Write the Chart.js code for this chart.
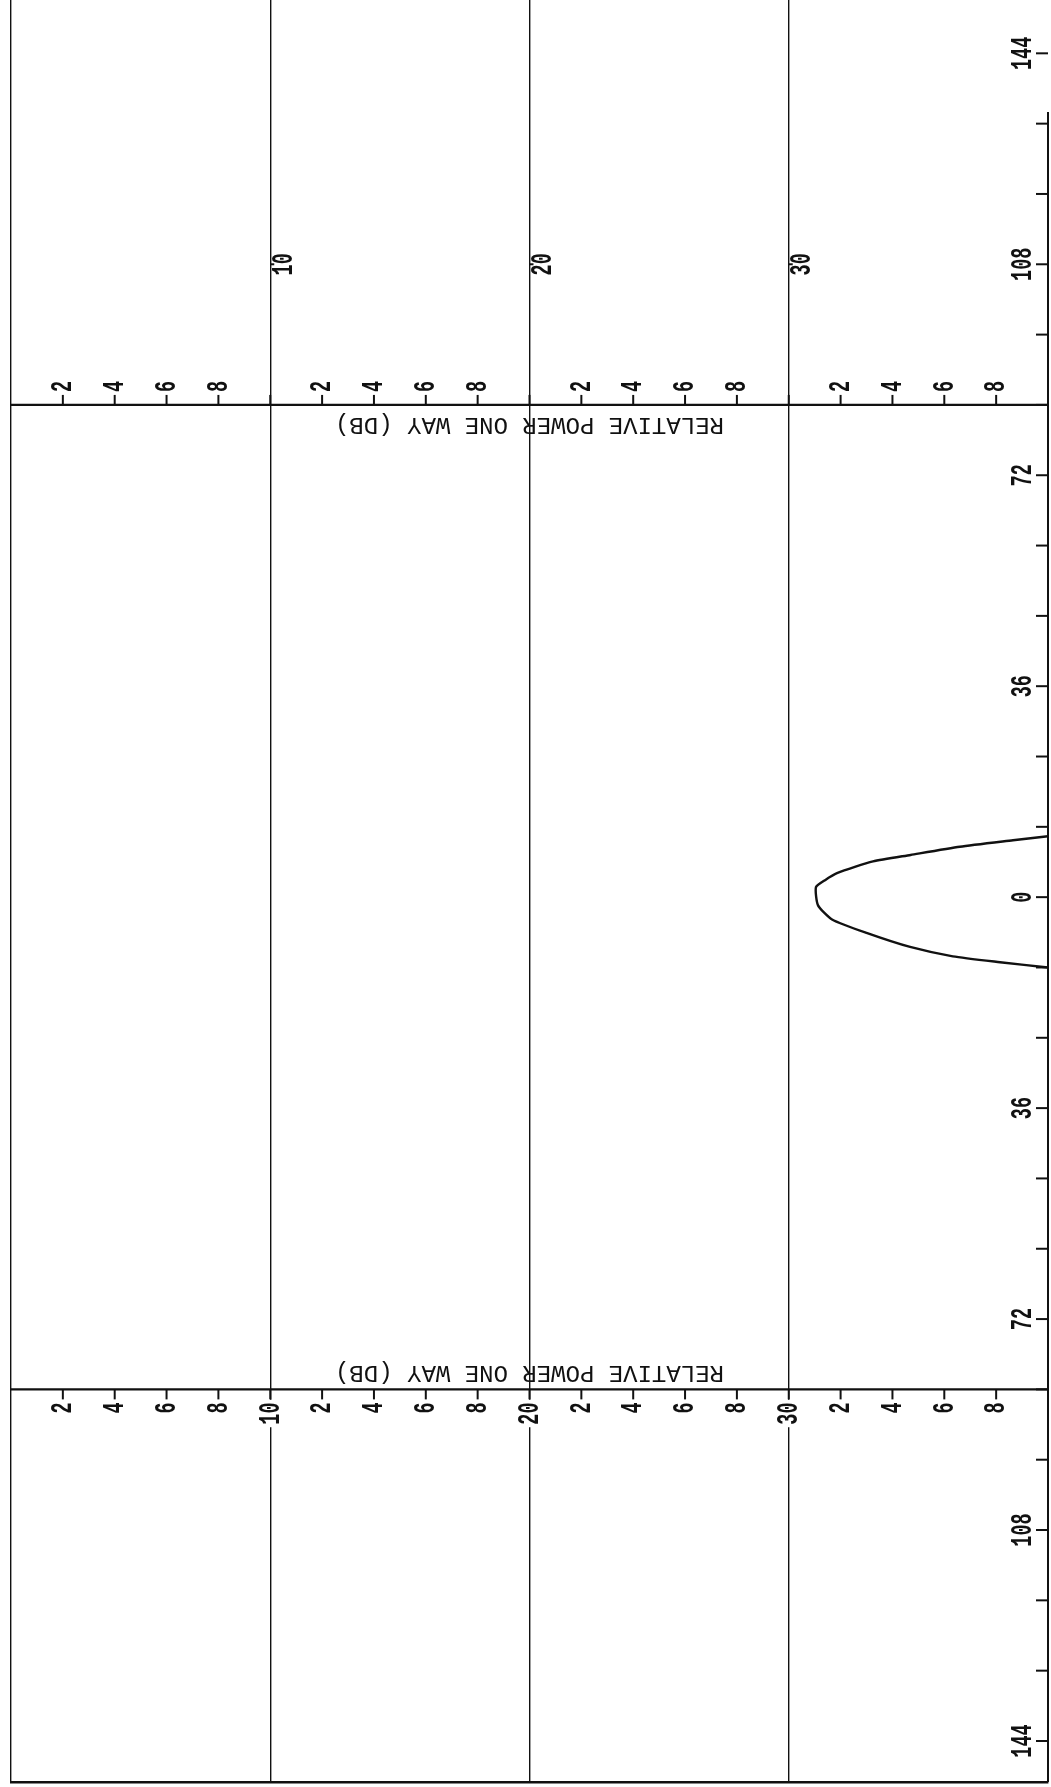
<!DOCTYPE html>
<html>
<head>
<meta charset="utf-8">
<script src="https://cdn.jsdelivr.net/npm/chart.js@4.4.1/dist/chart.umd.min.js"></script>
<style>
  html, body { margin: 0; padding: 0; background: #fff; }
  #wrap { width: 1051px; height: 1787px; }
</style>
</head>
<body>
<div id="wrap"><canvas id="pattern" width="1051" height="1787"></canvas></div>
<script>
// ── Data ─────────────────────────────────────────────────────────────
// beam pattern: relative power (dB) against angle (deg)
const patternDb    = [40.0, 38.65, 36.6, 34.7, 33.25, 31.86, 31.4, 31.05, 31.13, 31.67, 33.0, 34.68, 36.33, 38.15, 40.0];
const patternAngle = [10.4, 9.7, 8.6, 7.2, 6.1, 4.1, 2.9, 1.7, -1.4, -3.8, -6.1, -8.5, -10.1, -11.1, -12.0];

// dB axes
const dbTicks       = [2, 4, 6, 8, 10, 12, 14, 16, 18, 20, 22, 24, 26, 28, 30, 32, 34, 36, 38];
const upperDbLabels = ['2', '4', '6', '8', '', '2', '4', '6', '8', '', '2', '4', '6', '8', '', '2', '4', '6', '8'];
const lowerDbLabels = ['2', '4', '6', '8', '10', '2', '4', '6', '8', '20', '2', '4', '6', '8', '30', '2', '4', '6', '8'];
const decadeValues  = [10, 20, 30];
const decadeLabels  = ['10', '20', '30'];

// angle axis
const angleTicks       = [-144, -132, -120, -108, -96, -84, -72, -60, -48, -36, -24, -12, 0, 12, 24, 36, 48, 60, 72, 84, 96, 108, 120, 132, 144];
const angleLabelValues = [144, 108, 72, 36, 0, -36, -72, -108, -144];
const angleLabels      = ['144', '108', '72', '36', '0', '36', '72', '108', '144'];

const axisTitle = 'RELATIVE POWER ONE WAY (DB)';

// ── Style / placement ────────────────────────────────────────────────
const INK = '#111';
const DIGIT_FONT = 'bold 29px "Liberation Mono", "DejaVu Sans Mono", monospace';
const TITLE_FONT = '24px "Liberation Mono", "DejaVu Sans Mono", monospace';
const SQUEEZE = 0.64;
const UPPER_AXIS_AT = 84;     // angle where the upper dB axis sits
const LOWER_AXIS_AT = -84;    // angle where the lower dB axis sits
const DECADE_LABEL_AT = 108;  // angle of the 10/20/30 labels

function rotText(ctx, txt, cx, cy, rot, font, squeeze, bg) {
    ctx.save();
    ctx.translate(cx, cy);
    ctx.rotate(rot);
    ctx.scale(squeeze, 1);
    ctx.font = font;
    ctx.textAlign = 'center';
    ctx.textBaseline = 'middle';
    if (bg) {
        const w = ctx.measureText(txt).width;
        ctx.fillStyle = '#fff';
        ctx.fillRect(-w / 2 - 4, -12, w + 8, 24);
    }
    ctx.fillStyle = INK;
    ctx.fillText(txt, 0, 1);
    ctx.restore();
}

function textLen(ctx, txt, font, squeeze) {
    ctx.save();
    ctx.font = font;
    const w = ctx.measureText(txt).width * squeeze;
    ctx.restore();
    return w;
}

function hLine(ctx, x0, x1, yy, w) {
    ctx.beginPath();
    ctx.lineWidth = w;
    ctx.moveTo(x0, yy);
    ctx.lineTo(x1, yy);
    ctx.stroke();
}

function vLine(ctx, xx, y0, y1, w) {
    ctx.beginPath();
    ctx.lineWidth = w;
    ctx.moveTo(xx, y0);
    ctx.lineTo(xx, y1);
    ctx.stroke();
}

// ── Plotter-style axes drawn from the chart scales ───────────────────
const plotterAxes = {
    id: 'plotterAxes',
    afterDraw(chart) {
        const { ctx, chartArea, scales: { x, y } } = chart;
        const xr = x.getPixelForValue(40);
        ctx.save();
        ctx.strokeStyle = INK;

        // right angle axis
        vLine(ctx, xr, y.getPixelForValue(134), chartArea.bottom, 2);
        angleTicks.forEach(a => {
            hLine(ctx, xr - 12, xr, y.getPixelForValue(a), 2);
        });
        angleLabelValues.forEach((a, i) => {
            rotText(ctx, angleLabels[i], xr - 25, y.getPixelForValue(a), -Math.PI / 2, DIGIT_FONT, SQUEEZE, false);
        });

        // upper dB axis
        const ay = y.getPixelForValue(UPPER_AXIS_AT);
        hLine(ctx, chartArea.left, xr, ay, 2.4);
        dbTicks.forEach((v, i) => {
            const px = x.getPixelForValue(v);
            vLine(ctx, px, ay, ay - 10, 2);
            const t = upperDbLabels[i];
            if (t) {
                const len = textLen(ctx, t, DIGIT_FONT, SQUEEZE);
                rotText(ctx, t, px, ay - 13 - len / 2, -Math.PI / 2, DIGIT_FONT, SQUEEZE, false);
            }
        });
        decadeValues.forEach((v, i) => {
            const px = x.getPixelForValue(v);
            const py = y.getPixelForValue(DECADE_LABEL_AT);
            hLine(ctx, px, px + 4, py, 2);
            rotText(ctx, decadeLabels[i], px + 13, py, -Math.PI / 2, DIGIT_FONT, SQUEEZE, false);
        });
        rotText(ctx, axisTitle, x.getPixelForValue(20), ay + 20, Math.PI, TITLE_FONT, 1, false);

        // lower dB axis
        const by = y.getPixelForValue(LOWER_AXIS_AT);
        hLine(ctx, chartArea.left, xr, by, 2.4);
        dbTicks.forEach((v, i) => {
            const px = x.getPixelForValue(v);
            vLine(ctx, px, by, by + 10, 2);
            const t = lowerDbLabels[i];
            const len = textLen(ctx, t, DIGIT_FONT, SQUEEZE);
            rotText(ctx, t, px, by + 13 + len / 2, -Math.PI / 2, DIGIT_FONT, SQUEEZE, t.length > 1);
        });
        rotText(ctx, axisTitle, x.getPixelForValue(20), by - 16, Math.PI, TITLE_FONT, 1, false);

        ctx.restore();
    }
};

// ── Chart ────────────────────────────────────────────────────────────
const ctx = document.getElementById('pattern').getContext('2d');
const chart = new Chart(ctx, {
    type: 'scatter',
    data: {
        datasets: [{
            label: 'pattern',
            data: patternDb.map((d, i) => ({ x: d, y: patternAngle[i] })),
            showLine: true,
            borderColor: INK,
            borderWidth: 2.4,
            pointRadius: 0,
            tension: 0.2,
            fill: false
        }]
    },
    options: {
        responsive: false,
        animation: false,
        devicePixelRatio: 1,
        layout: { padding: { left: 11, right: 3, top: 0, bottom: 5 } },
        plugins: {
            legend: { display: false },
            tooltip: { enabled: false }
        },
        scales: {
            x: {
                type: 'linear',
                min: 0,
                max: 40,
                ticks: { display: false, stepSize: 10 },
                grid: {
                    drawTicks: false,
                    lineWidth: 1.4,
                    color: c => (c.tick && c.tick.value === 40) ? 'rgba(0,0,0,0)' : INK
                },
                border: { display: true, color: INK, width: 2.4 }
            },
            y: {
                type: 'linear',
                display: false,
                min: -151.0,
                max: 153.1
            }
        }
    },
    plugins: [plotterAxes]
});
</script>
</body>
</html>
